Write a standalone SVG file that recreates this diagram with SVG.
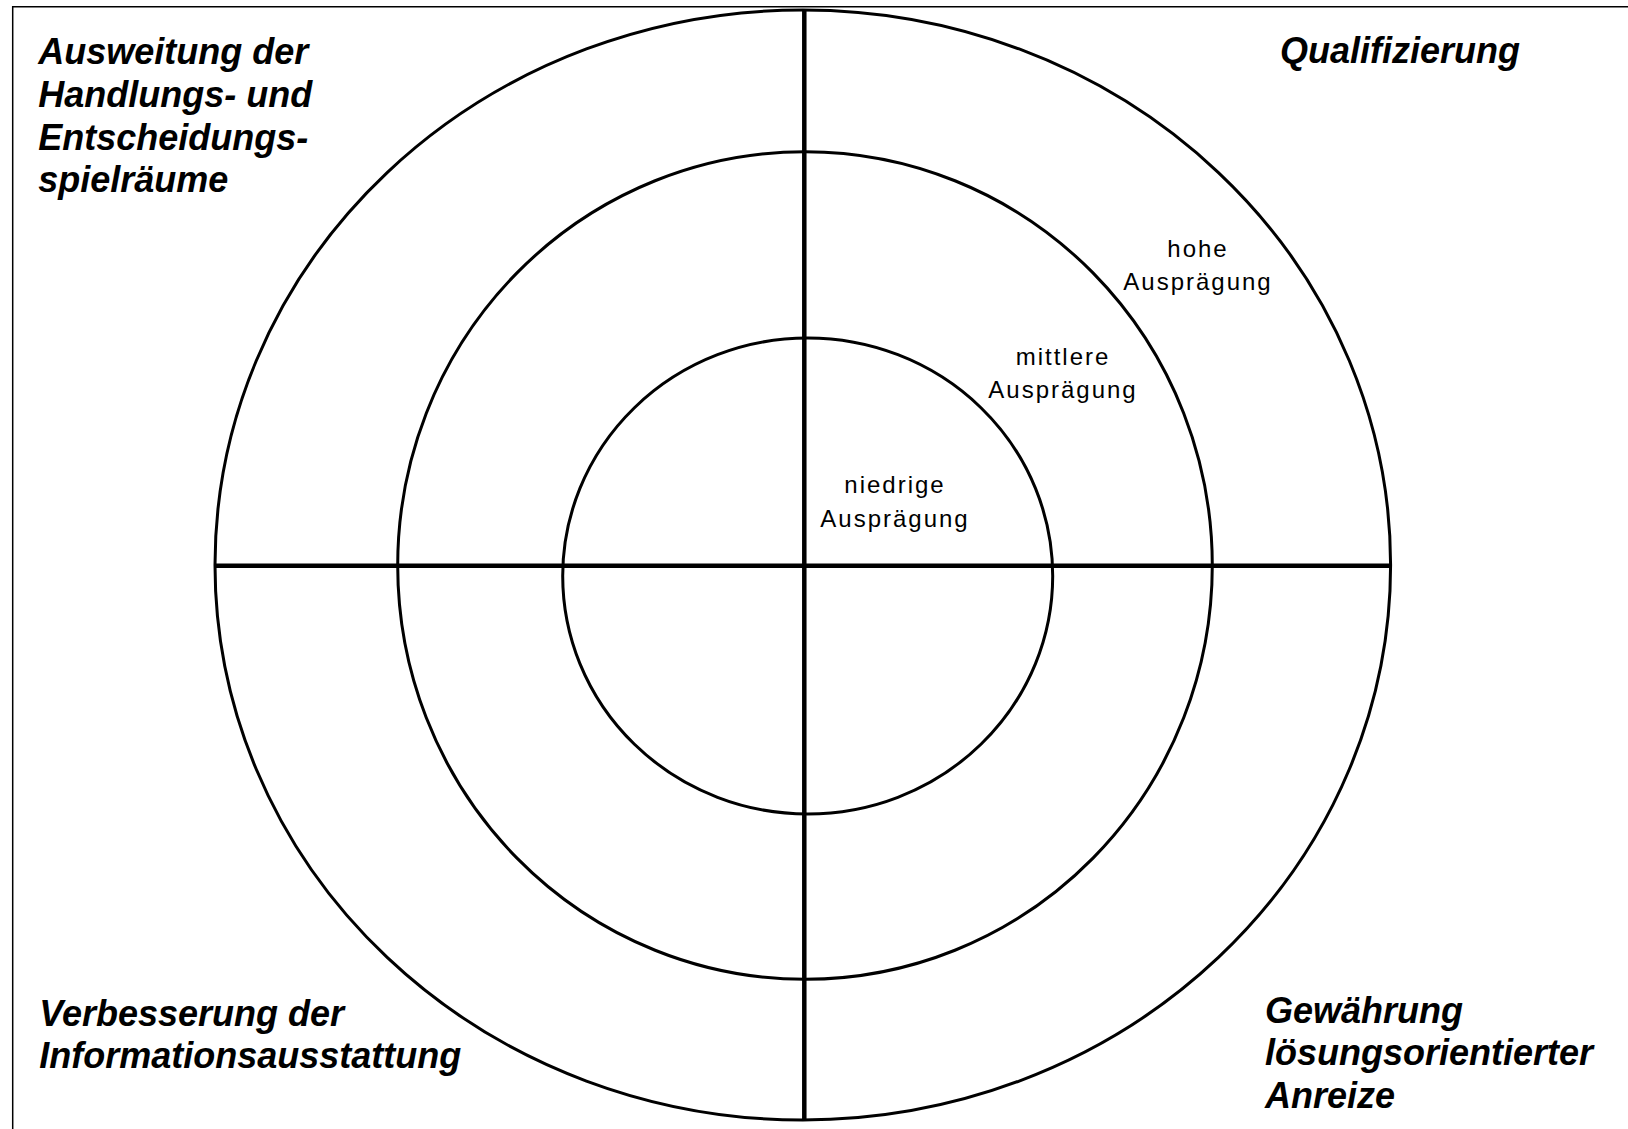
<svg xmlns="http://www.w3.org/2000/svg" width="1628" height="1129" viewBox="0 0 1628 1129">
<style>
.ring{fill:none;stroke:#000;stroke-width:3}
.axis{stroke:#000;stroke-width:4.5}
.frame{fill:none;stroke:#000;stroke-width:1.5}
.big{font-family:"Liberation Sans",Arial,sans-serif;font-size:36px;font-weight:bold;font-style:italic;fill:#000}
.small{font-family:"Liberation Sans",Arial,sans-serif;font-size:24px;letter-spacing:2px;fill:#000;text-anchor:middle}
</style>
<rect width="1628" height="1129" fill="#fff"/>
<path class="frame" d="M12.7,1129 V6.7 H1628"/>
<g id="rings">
<ellipse id="outer" class="ring" cx="802.8" cy="565" rx="587.8" ry="555"/>
<ellipse id="middle" class="ring" cx="805" cy="565.5" rx="407.3" ry="413.8"/>
<ellipse id="inner" class="ring" cx="807.7" cy="576" rx="245" ry="238"/>
</g>
<g id="connectors">
<line class="axis" x1="804.3" y1="10" x2="804.3" y2="1120"/>
<line class="axis" x1="215" y1="565.7" x2="1390.7" y2="565.7"/>
</g>
<g id="label-handlung">
<text class="big" x="38.3" y="64">Ausweitung der</text>
<text class="big" x="38.3" y="106.7">Handlungs- und</text>
<text class="big" x="38.3" y="149.7">Entscheidungs-</text>
<text class="big" x="38.3" y="192.3">spielräume</text>
</g>
<g id="label-qualifizierung">
<text class="big" x="1280" y="62.7">Qualifizierung</text>
</g>
<g id="label-information">
<text class="big" x="39.3" y="1026">Verbesserung der</text>
<text class="big" x="39.3" y="1068.3">Informationsausstattung</text>
</g>
<g id="label-anreize">
<text class="big" x="1265" y="1022.7">Gewährung</text>
<text class="big" x="1265" y="1065">lösungsorientierter</text>
<text class="big" x="1265" y="1108.3">Anreize</text>
</g>
<g id="label-hohe">
<text class="small" x="1198" y="257">hohe</text>
<text class="small" x="1198" y="290">Ausprägung</text>
</g>
<g id="label-mittlere">
<text class="small" x="1063" y="365">mittlere</text>
<text class="small" x="1063" y="398">Ausprägung</text>
</g>
<g id="label-niedrige">
<text class="small" x="895" y="493">niedrige</text>
<text class="small" x="895" y="527">Ausprägung</text>
</g>
</svg>
